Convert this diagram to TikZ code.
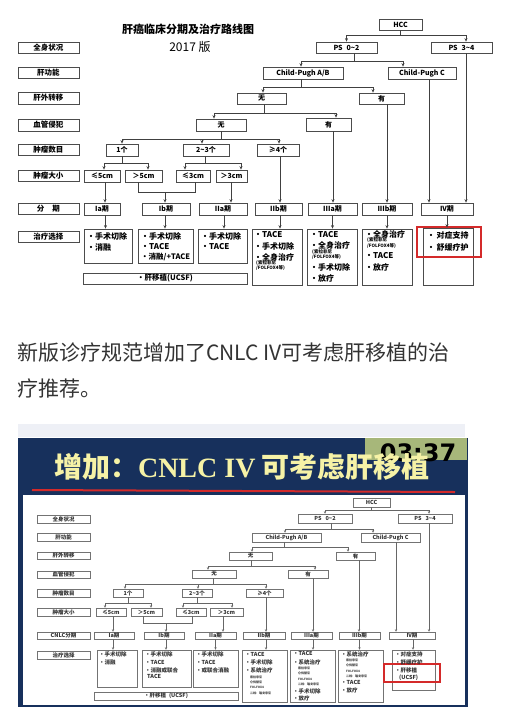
\documentclass[tikz,border=0pt]{standalone}
\usepackage{fontspec}
\setmainfont{Noto Sans CJK SC}
\newfontfamily\djv{DejaVu Sans}
\newfontfamily\serL{Liberation Serif}
\usetikzlibrary{arrows.meta}
\definecolor{navy}{HTML}{17305C}
\definecolor{timer}{HTML}{A7B77A}
\definecolor{ttl}{HTML}{F6F2A6}
\definecolor{redb}{HTML}{D42A2A}
\definecolor{txtc}{HTML}{333333}
\definecolor{haze}{HTML}{EEF0F6}
\newcounter{tlc}
\newcommand\mybx[7][]{\node[#1,minimum width={(#5-#3)*1pt},minimum height={(#6-#4)*1pt}] (#2) at ({(#3+#5)/2},{(#4+#6)/2}) {#7};}
\newcommand\tline[4][txA]{\stepcounter{tlc}\edef\tlnm{tl\arabic{tlc}}\node[#1] (\tlnm) at (#2,#3) {#4};}
\begin{document}
\begin{tikzpicture}[x=1pt,y=-1pt,
 bA/.style={draw=black!70,line width=0.7pt,inner sep=0,fill=white,font=\fontsize{7}{8}\selectfont\bfseries},
 lA/.style={bA,font=\fontsize{7.5}{8}\selectfont\bfseries},
 lnA/.style={draw=black!75,line width=0.8pt},
 arA/.style={lnA,-{Stealth[length=3.5pt,width=3pt]}},
 txA/.style={anchor=west,inner sep=0,font=\fontsize{8}{9}\selectfont\bfseries},
 smA/.style={anchor=west,inner sep=0,font=\fontsize{4.5}{5}\selectfont\bfseries},
 bB/.style={draw=black!55,line width=0.5pt,inner sep=0,fill=white,text=black!80,font=\fontsize{5.5}{6}\selectfont\bfseries},
 lnB/.style={draw=black!60,line width=0.5pt},
 arB/.style={lnB,-{Stealth[length=2.5pt,width=2.2pt]}},
 txB/.style={anchor=west,inner sep=0,text=black!80,font=\fontsize{5.5}{6}\selectfont\bfseries},
 smB/.style={anchor=west,inner sep=0,text=black!75,font=\fontsize{3}{3.5}\selectfont\bfseries},
]
\useasboundingbox (0,0) rectangle (505,724);
\fill[white] (0,0) rectangle (505,724);

%================ TOP CHART ================
\node[font=\fontsize{11}{12}\selectfont\bfseries] (title) at (188,29) {肝癌临床分期及治疗路线图};
\node[font=\fontsize{12}{13}\selectfont] (ver) at (190,47) {2017 版};

\mybx[lA]{L1}{18}{42}{79}{53}{全身状况}
\mybx[lA]{L2}{18}{67}{79}{78}{肝功能}
\mybx[lA]{L3}{18}{92}{79}{104}{肝外转移}
\mybx[lA]{L4}{18}{119}{79}{131}{血管侵犯}
\mybx[lA]{L5}{18}{144}{79}{155}{肿瘤数目}
\mybx[lA]{L6}{18}{170}{79}{181}{肿瘤大小}
\mybx[lA]{L7}{18}{203}{79}{214}{分\hspace{8pt}期}
\mybx[lA]{L8}{18}{231}{79}{242}{治疗选择}

\mybx[bA]{hcc}{379}{19}{422}{30}{HCC}
\mybx[bA]{ps02}{316}{42}{377}{53}{PS\hspace{4pt}0\textasciitilde2}
\mybx[bA]{ps34}{431}{42}{492}{53}{PS\hspace{4pt}3\textasciitilde4}
\mybx[bA]{cpab}{263}{67}{343}{79}{Child-Pugh A/B}
\mybx[bA]{cpc}{388}{67}{456}{79}{Child-Pugh C}
\mybx[bA]{m0}{237}{93}{286}{104}{无}
\mybx[bA]{m1}{359}{93}{404}{104}{有}
\mybx[bA]{v0}{196}{119}{246}{131}{无}
\mybx[bA]{v1}{306}{118}{351}{131}{有}
\mybx[bA]{n1}{106}{144}{138}{156}{1个}
\mybx[bA]{n23}{183}{144}{229}{156}{2\textasciitilde3个}
\mybx[bA]{n4}{257}{144}{299}{156}{≥4个}
\mybx[bA]{s5a}{84}{170}{120}{182}{≤5cm}
\mybx[bA]{s5b}{125}{170}{162}{182}{＞5cm}
\mybx[bA]{s3a}{176}{170}{210}{182}{≤3cm}
\mybx[bA]{s3b}{216}{170}{247}{182}{＞3cm}
\mybx[bA]{Ia}{84}{203}{120}{215}{Ia期}
\mybx[bA]{Ib}{142}{203}{190}{215}{Ib期}
\mybx[bA]{IIa}{199}{203}{247}{215}{IIa期}
\mybx[bA]{IIb}{255}{203}{302}{215}{IIb期}
\mybx[bA]{IIIa}{308}{203}{357}{215}{IIIa期}
\mybx[bA]{IIIb}{362}{203}{412}{215}{IIIb期}
\mybx[bA]{IV}{421}{203}{473}{215}{IV期}
\mybx[bA]{tIa}{84}{229}{132}{263}{}
\mybx[bA]{tIb}{138}{229}{193}{263}{}
\mybx[bA]{tIIa}{198}{229}{247}{263}{}
\mybx[bA]{tIIb}{252}{229}{302}{285}{}
\mybx[bA]{tIIIa}{307}{229}{357}{285}{}
\mybx[bA]{tIIIb}{362}{229}{412}{285}{}
\mybx[bA]{tIV}{423}{228}{473}{285}{}
\mybx[bA,font=\fontsize{7.5}{8}\selectfont\bfseries]{ucsf}{83}{273}{247}{284}{•肝移植(UCSF)}
\mybx[draw=redb,line width=1.3pt,inner sep=0]{red}{417}{227}{481}{257}{}

% connectors
\draw[lnA] (hcc.south) -- ++(0,5);
\draw[arA] (hcc.south) ++(0,5) -| (ps02.north);
\draw[arA] (hcc.south) ++(0,5) -| ([xshift=4.5pt]ps34.north);
\draw[lnA] ([xshift=7.5pt]ps02.south) -- ++(0,8);
\draw[arA] ([xshift=7.5pt]ps02.south) ++(0,8) -| ([xshift=-2pt]cpab.north);
\draw[arA] ([xshift=7.5pt]ps02.south) ++(0,8) -| ([xshift=-19pt]cpc.north);
\draw[lnA] ([xshift=-2pt]cpab.south) -- ++(0,8);
\draw[arA] ([xshift=-2pt]cpab.south) ++(0,8) -| ([xshift=1.5pt]m0.north);
\draw[arA] ([xshift=-2pt]cpab.south) ++(0,8) -| ([xshift=-8.5pt]m1.north);
\draw[lnA] ([xshift=2.5pt]m0.south) -- ++(0,9);
\draw[arA] ([xshift=2.5pt]m0.south) ++(0,9) -| ([xshift=-7pt]v0.north);
\draw[arA] ([xshift=2.5pt]m0.south) ++(0,9) -| ([xshift=7.5pt]v1.north);
\draw[lnA] (v0.south) -- ++(0,8);
\draw[arA] (v0.south) ++(0,8) -| (n1.north);
\draw[arA] (v0.south) ++(0,8) -| ([xshift=-4pt]n23.north);
\draw[arA] (v0.south) ++(0,8) -| ([xshift=1pt]n4.north);
\draw[lnA] (n1.south) -- ++(0,7);
\draw[arA] (n1.south) ++(0,7) -| ([xshift=2pt]s5a.north);
\draw[arA] (n1.south) ++(0,7) -| ([xshift=4.5pt]s5b.north);
\draw[lnA] ([xshift=-1pt]n23.south) -- ++(0,7);
\draw[arA] ([xshift=-1pt]n23.south) ++(0,7) -| ([xshift=-8pt]s3a.north);
\draw[arA] ([xshift=-1pt]n23.south) ++(0,7) -| ([xshift=9.5pt]s3b.north);
\coordinate (a1) at ([xshift=3pt]s5a.south);
\draw[arA] (a1) -- (a1 |- Ia.north);
\coordinate (a2) at ([xshift=-5.5pt]s5b.south);
\coordinate (a3) at ([xshift=2pt]s3a.south);
\draw[lnA] (a2) -- ++(0,10) -| (a3);
\coordinate (a4) at ([xshift=-1pt]Ib.north);
\draw[arA] (a4 |- a2) ++(0,10) -- (a4);
\coordinate (a5) at ([xshift=-0.5pt]s3b.south);
\draw[arA] (a5) -- (a5 |- IIa.north);
\coordinate (a6) at ([xshift=2pt]n4.south);
\draw[arA] (a6) -- (a6 |- IIb.north);
\coordinate (a7) at ([xshift=4.5pt]v1.south);
\draw[arA] (a7) -- (a7 |- IIIa.north);
\coordinate (a8) at ([xshift=5.5pt]m1.south);
\draw[arA] (a8) -- (a8 |- IIIb.north);
\coordinate (a9) at ([xshift=7pt]cpc.south);
\draw[arA] (a9) -- (a9 |- IV.north);
\coordinate (a10) at ([xshift=4.5pt]ps34.south);
\draw[arA] (a10) -- (a10 |- IV.north);
\draw[arA] ([xshift=3.5pt]Ia.south) -- ([xshift=3.5pt]Ia.south |- tIa.north);
\draw[arA] ([xshift=-1pt]Ib.south) -- ([xshift=-1pt]Ib.south |- tIb.north);
\draw[arA] ([xshift=1pt]IIa.south) -- ([xshift=1pt]IIa.south |- tIIa.north);
\draw[arA] ([xshift=1.5pt]IIb.south) -- ([xshift=1.5pt]IIb.south |- tIIb.north);
\draw[arA] (IIIa.south) -- (IIIa.south |- tIIIa.north);
\draw[arA] (IIIb.south) -- (IIIb.south |- tIIIb.north);
\draw[arA] (IV.south) -- (IV.south |- tIV.north);

% treatment texts
\tline{87}{236}{•手术切除}
\tline{87}{247}{•消融}
\tline{141}{236}{•手术切除}
\tline{141}{247}{•TACE}
\tline[txA,font=\fontsize{7.5}{9}\selectfont\bfseries]{141}{257}{•消融/+TACE}
\tline{201}{236}{•手术切除}
\tline{201}{247}{•TACE}
\tline{254}{235}{•TACE}
\tline{254}{246}{•手术切除}
\tline{254}{257}{•全身治疗}
\tline[smA]{256}{263}{(索拉非尼}
\tline[smA]{256}{268}{/FOLFOX4等)}
\tline{310}{235}{•TACE}
\tline{310}{245}{•全身治疗}
\tline[smA]{312}{252}{(索拉非尼}
\tline[smA]{312}{257}{/FOLFOX4等)}
\tline{310}{267}{•手术切除}
\tline{310}{278}{•放疗}
\tline{365}{234}{•全身治疗}
\tline[smA]{367}{240}{(索拉非尼}
\tline[smA]{367}{246}{/FOLFOX4等)}
\tline{365}{256}{•TACE}
\tline{365}{267}{•放疗}
\tline{427}{235}{•\,对症支持}
\tline{427}{247}{•\,舒缓疗护}

%================ MIDDLE TEXT ================
\node[anchor=west,inner sep=0,text=txtc,font=\fontsize{21}{24}\selectfont] (mid1) at (17,353) {新版诊疗规范增加了CNLC IV可考虑肝移植的治};
\node[anchor=west,inner sep=0,text=txtc,font=\fontsize{21}{24}\selectfont] (mid2) at (17,388) {疗推荐。};

%================ SLIDE ================
\fill[haze] (18,424) rectangle (465,437);
\fill[navy] (18,438) rectangle (468,707);
\fill[white] (23,495) rectangle (465,705);
\fill[timer] (365,438) rectangle (467,460);
\node[font=\djv\bfseries\fontsize{24}{26}\selectfont,inner sep=0] (clock) at (418,453) {03:37};
\node[text=ttl,inner sep=0,font=\fontsize{28}{30}\selectfont\bfseries] (stitle) at (242,467) {增加：{\serL\bfseries CNLC IV} 可考虑肝移植};
\draw[redb,line width=2pt] (32,490) -- (455,492);

% bottom chart
\mybx[bB]{K1}{37}{515}{90}{523}{全身状况}
\mybx[bB]{K2}{37}{533}{90}{541}{肝功能}
\mybx[bB]{K3}{37}{552}{90}{559}{肝外转移}
\mybx[bB]{K4}{37}{571}{90}{578}{血管侵犯}
\mybx[bB]{K5}{37}{589}{90}{597}{肿瘤数目}
\mybx[bB]{K6}{37}{608}{90}{616}{肿瘤大小}
\mybx[bB]{K7}{37}{632}{90}{639}{CNLC分期}
\mybx[bB]{K8}{37}{651}{90}{659}{治疗选择}

\mybx[bB]{hcc2}{353}{498}{390}{507}{HCC}
\mybx[bB]{ps02b}{298}{514}{352}{523}{PS\hspace{4pt}0\textasciitilde2}
\mybx[bB]{ps34b}{398}{514}{452}{523}{PS\hspace{4pt}3\textasciitilde4}
\mybx[bB]{cpab2}{252}{533}{321}{542}{Child-Pugh A/B}
\mybx[bB]{cpc2}{361}{533}{420}{542}{Child-Pugh C}
\mybx[bB]{m0b}{229}{552}{272}{560}{无}
\mybx[bB]{m1b}{336}{552}{375}{560}{有}
\mybx[bB]{v0b}{192}{570}{236}{578}{无}
\mybx[bB]{v1b}{288}{570}{328}{578}{有}
\mybx[bB]{n1b}{113}{589}{143}{597}{1个}
\mybx[bB]{n23b}{182}{589}{212}{597}{2\textasciitilde3个}
\mybx[bB]{n4b}{246}{589}{283}{597}{≥4个}
\mybx[bB]{s5ab}{96}{608}{126}{616}{≤5cm}
\mybx[bB]{s5bb}{131}{608}{162}{616}{＞5cm}
\mybx[bB]{s3ab}{176}{608}{206}{616}{≤3cm}
\mybx[bB]{s3bb}{210}{608}{243}{616}{＞3cm}
\mybx[bB]{Iab}{94}{632}{134}{639}{Ia期}
\mybx[bB]{Ibb}{144}{632}{184}{639}{Ib期}
\mybx[bB]{IIab}{195}{632}{236}{639}{IIa期}
\mybx[bB]{IIbb}{243}{632}{285}{639}{IIb期}
\mybx[bB]{IIIab}{291}{632}{332}{639}{IIIa期}
\mybx[bB]{IIIbb}{339}{632}{380}{639}{IIIb期}
\mybx[bB]{IVb}{389}{632}{435}{639}{IV期}
\mybx[bB]{tIab}{97}{650}{137}{687}{}
\mybx[bB]{tIbb}{142}{650}{191}{687}{}
\mybx[bB]{tIIab}{193}{650}{238}{687}{}
\mybx[bB]{tIIbb}{242}{650}{287}{702}{}
\mybx[bB]{tIIIab}{290}{650}{335}{702}{}
\mybx[bB]{tIIIbb}{338}{650}{383}{702}{}
\mybx[bB]{tIVb}{392}{650}{435}{690}{}
\mybx[bB]{ucsfb}{94}{692}{238}{700}{•肝移植\hspace{3pt}(UCSF)}
\mybx[draw=redb,line width=1.1pt,inner sep=0]{redb2}{384}{664}{440}{682}{}

\draw[lnB] (hcc2.south) -- ++(0,3);
\draw[arB] (hcc2.south) ++(0,3) -| (ps02b.north);
\draw[arB] (hcc2.south) ++(0,3) -| ([xshift=4pt]ps34b.north);
\draw[lnB] ([xshift=6pt]ps02b.south) -- ++(0,6);
\draw[arB] ([xshift=6pt]ps02b.south) ++(0,6) -| ([xshift=-1.5pt]cpab2.north);
\draw[arB] ([xshift=6pt]ps02b.south) ++(0,6) -| ([xshift=-17.5pt]cpc2.north);
\draw[lnB] ([xshift=-2.5pt]cpab2.south) -- ++(0,5);
\draw[arB] ([xshift=-2.5pt]cpab2.south) ++(0,5) -| ([xshift=1.5pt]m0b.north);
\draw[arB] ([xshift=-2.5pt]cpab2.south) ++(0,5) -| ([xshift=-7.5pt]m1b.north);
\draw[lnB] ([xshift=0.5pt]m0b.south) -- ++(0,6);
\draw[arB] ([xshift=0.5pt]m0b.south) ++(0,6) -| ([xshift=-6pt]v0b.north);
\draw[arB] ([xshift=0.5pt]m0b.south) ++(0,6) -| ([xshift=7pt]v1b.north);
\draw[lnB] ([xshift=-1pt]v0b.south) -- ++(0,6);
\draw[arB] ([xshift=-1pt]v0b.south) ++(0,6) -| ([xshift=-3pt]n1b.north);
\draw[arB] ([xshift=-1pt]v0b.south) ++(0,6) -| ([xshift=1pt]n23b.north);
\draw[arB] ([xshift=-1pt]v0b.south) ++(0,6) -| ([xshift=1.5pt]n4b.north);
\draw[lnB] (n1b.south) -- ++(0,6);
\draw[arB] (n1b.south) ++(0,6) -| ([xshift=-6pt]s5ab.north);
\draw[arB] (n1b.south) ++(0,6) -| ([xshift=4.5pt]s5bb.north);
\draw[lnB] (n23b.south) -- ++(0,6);
\draw[arB] (n23b.south) ++(0,6) -| ([xshift=-8pt]s3ab.north);
\draw[arB] (n23b.south) ++(0,6) -| ([xshift=5.5pt]s3bb.north);
\coordinate (b1) at ([xshift=2pt]s5ab.south);
\draw[arB] (b1) -- (b1 |- Iab.north);
\coordinate (b2) at ([xshift=-3.5pt]s5bb.south);
\coordinate (b3) at ([xshift=1pt]s3ab.south);
\draw[lnB] (b2) -- ++(0,7) -| (b3);
\coordinate (b4) at ([xshift=2pt]Ibb.north);
\draw[arB] (b4 |- b2) ++(0,7) -- (b4);
\coordinate (b5) at ([xshift=-3.5pt]s3bb.south);
\draw[arB] (b5) -- (b5 |- IIab.north);
\coordinate (b6) at ([xshift=1.5pt]n4b.south);
\draw[arB] (b6) -- (b6 |- IIbb.north);
\coordinate (b7) at ([xshift=5pt]v1b.south);
\draw[arB] (b7) -- (b7 |- IIIab.north);
\coordinate (b8) at ([xshift=3.5pt]m1b.south);
\draw[arB] (b8) -- (b8 |- IIIbb.north);
\coordinate (b9) at ([xshift=5.5pt]cpc2.south);
\draw[arB] (b9) -- (b9 |- IVb.north);
\coordinate (b10) at ([xshift=4pt]ps34b.south);
\draw[arB] (b10) -- (b10 |- IVb.north);
\draw[arB] ([xshift=-1pt]Iab.south) -- ([xshift=-1pt]Iab.south |- tIab.north);
\draw[arB] ([xshift=2pt]Ibb.south) -- ([xshift=2pt]Ibb.south |- tIbb.north);
\draw[arB] (IIab.south) -- (IIab.south |- tIIab.north);
\draw[arB] ([xshift=2pt]IIbb.south) -- ([xshift=2pt]IIbb.south |- tIIbb.north);
\draw[arB] ([xshift=1.5pt]IIIab.south) -- ([xshift=1.5pt]IIIab.south |- tIIIab.north);
\draw[arB] (IIIbb.south) -- (IIIbb.south |- tIIIbb.north);
\draw[arB] ([xshift=1pt]IVb.south) -- ([xshift=1pt]IVb.south |- tIVb.north);

\tline[txB]{99}{654}{•手术切除}
\tline[txB]{99}{662}{•消融}
\tline[txB]{145}{654}{•手术切除}
\tline[txB]{145}{662}{•TACE}
\tline[txB]{145}{670}{•消融或联合}
\tline[txB]{147}{676}{TACE}
\tline[txB]{196}{654}{•手术切除}
\tline[txB]{196}{662}{•TACE}
\tline[txB]{196}{670}{•或联合消融}
\tline[txB]{245}{654}{•TACE}
\tline[txB]{245}{662}{•手术切除}
\tline[txB]{245}{670}{•系统治疗}
\tline[smB]{250}{677}{索拉非尼}
\tline[smB]{250}{682}{仑伐替尼}
\tline[smB]{250}{687}{FOLFOX4}
\tline[smB]{250}{693}{二线：瑞戈非尼}
\tline[txB]{293}{653}{•TACE}
\tline[txB]{293}{662}{•系统治疗}
\tline[smB]{298}{668}{索拉非尼}
\tline[smB]{298}{673}{仑伐替尼}
\tline[smB]{298}{679}{FOLFOX4}
\tline[smB]{298}{684}{二线：瑞戈非尼}
\tline[txB]{293}{691}{•手术切除}
\tline[txB]{293}{698}{•放疗}
\tline[txB]{341}{654}{•系统治疗}
\tline[smB]{346}{660}{索拉非尼}
\tline[smB]{346}{665}{仑伐替尼}
\tline[smB]{346}{671}{FOLFOX4}
\tline[smB]{346}{676}{二线：瑞戈非尼}
\tline[txB]{341}{682}{•TACE}
\tline[txB]{341}{690}{•放疗}
\tline[txB]{395}{654}{•对症支持}
\tline[txB]{395}{662}{•舒缓疗护}
\tline[txB]{395}{670}{•肝移植}
\tline[txB]{399}{678}{(UCSF)}
\end{tikzpicture}
\end{document}
